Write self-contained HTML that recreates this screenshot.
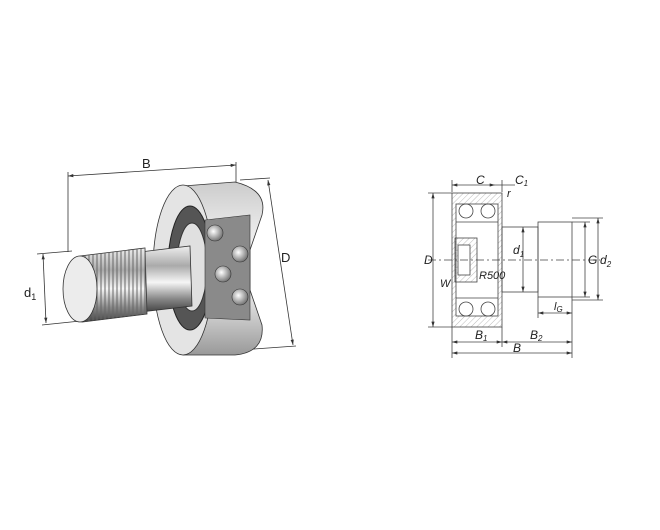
<!DOCTYPE html>
<html><head><meta charset="utf-8"><style>
html,body{margin:0;padding:0;background:#fff;}
svg{display:block}
text{font-family:"Liberation Sans",sans-serif;fill:#222}
</style></head><body>
<svg width="660" height="530" viewBox="0 0 660 530" xmlns="http://www.w3.org/2000/svg">
<defs>
<marker id="a" viewBox="0 0 10 6" refX="10" refY="3" markerWidth="8" markerHeight="4" orient="auto-start-reverse"><path d="M0,0 L10,3 L0,6 Z" fill="#333"/></marker>
<linearGradient id="sh" x1="0" y1="0" x2="0" y2="1">
<stop offset="0" stop-color="#eee"/><stop offset="0.3" stop-color="#aaa"/><stop offset="0.55" stop-color="#f6f6f6"/><stop offset="0.8" stop-color="#888"/><stop offset="1" stop-color="#444"/></linearGradient>
<linearGradient id="rg" x1="0" y1="0" x2="0" y2="1">
<stop offset="0" stop-color="#ccc"/><stop offset="0.4" stop-color="#f6f6f6"/><stop offset="0.7" stop-color="#ddd"/><stop offset="1" stop-color="#999"/></linearGradient>
<radialGradient id="ball" cx="0.4" cy="0.4" r="0.6"><stop offset="0" stop-color="#fff"/><stop offset="1" stop-color="#777"/></radialGradient>
<pattern id="thr" width="4" height="10" patternUnits="userSpaceOnUse"><line x1="1" y1="0" x2="1" y2="10" stroke="#666" stroke-width="1"/></pattern>
<pattern id="hat" width="4" height="4" patternUnits="userSpaceOnUse" patternTransform="rotate(45)"><line x1="0" y1="0" x2="0" y2="4" stroke="#aaa" stroke-width="0.8"/></pattern>
</defs>
<g stroke="#333" stroke-width="0.8" fill="none">
<line x1="68" y1="176" x2="236" y2="165" marker-start="url(#a)" marker-end="url(#a)"/>
<line x1="68" y1="172" x2="68" y2="252"/>
<line x1="236" y1="162" x2="236" y2="186"/>
<line x1="240" y1="180" x2="270" y2="178"/>
<line x1="268" y1="180" x2="293" y2="345" marker-start="url(#a)" marker-end="url(#a)"/>
<line x1="240" y1="350" x2="296" y2="346"/>
<line x1="43" y1="254" x2="46" y2="323" marker-start="url(#a)" marker-end="url(#a)"/>
<line x1="37" y1="254" x2="72" y2="251"/>
<line x1="42" y1="325" x2="90" y2="320"/>
</g>
<path d="M183,186 L235,182 Q268,190 262,215 L250,250 L250,290 L262,325 Q265,352 235,355 L183,355 Z" fill="url(#rg)" stroke="#333" stroke-width="0.8"/>
<ellipse cx="183" cy="270" rx="30" ry="85" fill="#e4e4e4" stroke="#333" stroke-width="0.8"/>
<ellipse cx="190" cy="268" rx="22" ry="62" fill="#555" stroke="#222"/>
<ellipse cx="192" cy="267" rx="15" ry="44" fill="#e0e0e0" stroke="#333"/>
<path d="M205,220 L250,215 L250,320 L205,318 Z" fill="#8a8a8a" stroke="#333" stroke-width="0.6"/>
<circle cx="215" cy="233" r="8" fill="url(#ball)" stroke="#333" stroke-width="0.6"/>
<circle cx="240" cy="254" r="8" fill="url(#ball)" stroke="#333" stroke-width="0.6"/>
<circle cx="223" cy="274" r="8" fill="url(#ball)" stroke="#333" stroke-width="0.6"/>
<circle cx="240" cy="297" r="8" fill="url(#ball)" stroke="#333" stroke-width="0.6"/>
<path d="M140,252 L190,246 L192,306 L140,312 Z" fill="url(#sh)" stroke="#333" stroke-width="0.8"/>
<path d="M80,256 L145,248 L147,314 L82,322 Z" fill="url(#sh)" stroke="#333" stroke-width="0.8"/>
<path d="M80,256 L145,248 L147,314 L82,322 Z" fill="url(#thr)"/>
<ellipse cx="80" cy="289" rx="17" ry="33" fill="#ececec" stroke="#333" stroke-width="0.8"/>
<text x="142" y="168" font-size="13">B</text>
<text x="281" y="262" font-size="13">D</text>
<text x="24" y="297" font-size="13">d<tspan font-size="9" dy="3">1</tspan></text>

<g stroke="#444" stroke-width="0.8" fill="none">
<rect x="452" y="193" width="50" height="134" fill="url(#hat)"/>
<rect x="456" y="204" width="42" height="112" fill="#fff"/>
<rect x="455" y="238" width="22" height="44" fill="url(#hat)"/>
<rect x="458" y="245" width="12" height="30" fill="#fff"/>
<circle cx="466" cy="211" r="7"/><circle cx="488" cy="211" r="7"/>
<circle cx="466" cy="309" r="7"/><circle cx="488" cy="309" r="7"/>
<line x1="456" y1="222" x2="498" y2="222"/><line x1="456" y1="298" x2="498" y2="298"/>
<rect x="502" y="227" width="36" height="65"/>
<rect x="538" y="222" width="34" height="75"/>
<line x1="428" y1="260" x2="600" y2="260" stroke-dasharray="8,3,2,3"/>
<line x1="433" y1="193" x2="433" y2="327" marker-start="url(#a)" marker-end="url(#a)"/>
<line x1="428" y1="193" x2="452" y2="193"/><line x1="428" y1="327" x2="452" y2="327"/>
<line x1="452" y1="180" x2="452" y2="192"/><line x1="502" y1="180" x2="502" y2="192"/>
<line x1="452" y1="185" x2="495" y2="185" marker-start="url(#a)" marker-end="url(#a)"/><line x1="495" y1="185" x2="515" y2="185"/>
<line x1="523" y1="227" x2="523" y2="292" marker-start="url(#a)" marker-end="url(#a)"/>
<line x1="572" y1="222" x2="590" y2="222"/><line x1="572" y1="297" x2="590" y2="297"/>
<line x1="585" y1="222" x2="585" y2="297" marker-start="url(#a)" marker-end="url(#a)"/>
<line x1="572" y1="218" x2="603" y2="218"/><line x1="572" y1="300" x2="603" y2="300"/>
<line x1="598" y1="218" x2="598" y2="300" marker-start="url(#a)" marker-end="url(#a)"/>
<line x1="538" y1="297" x2="538" y2="318"/><line x1="572" y1="297" x2="572" y2="358"/>
<line x1="538" y1="313" x2="572" y2="313" marker-start="url(#a)" marker-end="url(#a)"/>
<line x1="452" y1="327" x2="452" y2="358"/><line x1="502" y1="327" x2="502" y2="347"/>
<line x1="452" y1="342" x2="502" y2="342" marker-start="url(#a)" marker-end="url(#a)"/>
<line x1="502" y1="342" x2="572" y2="342" marker-start="url(#a)" marker-end="url(#a)"/>
<line x1="452" y1="353" x2="572" y2="353" marker-start="url(#a)" marker-end="url(#a)"/>
</g>
<g font-size="12" font-style="italic">
<text x="476" y="184">C</text>
<text x="515" y="184">C<tspan font-size="8" dy="2">1</tspan></text>
<text x="507" y="197" font-size="11">r</text>
<text x="424" y="264">D</text>
<text x="513" y="254">d<tspan font-size="8" dy="3">1</tspan></text>
<text x="479" y="279" font-size="11">R500</text>
<text x="440" y="287" font-size="11">W</text>
<text x="588" y="264">G</text>
<text x="600" y="264">d<tspan font-size="8" dy="3">2</tspan></text>
<text x="554" y="310" font-size="11">l<tspan font-size="8" dy="2">G</tspan></text>
<text x="475" y="339">B<tspan font-size="8" dy="2">1</tspan></text>
<text x="530" y="339">B<tspan font-size="8" dy="2">2</tspan></text>
<text x="513" y="352">B</text>
</g>
</svg>
</body></html>
